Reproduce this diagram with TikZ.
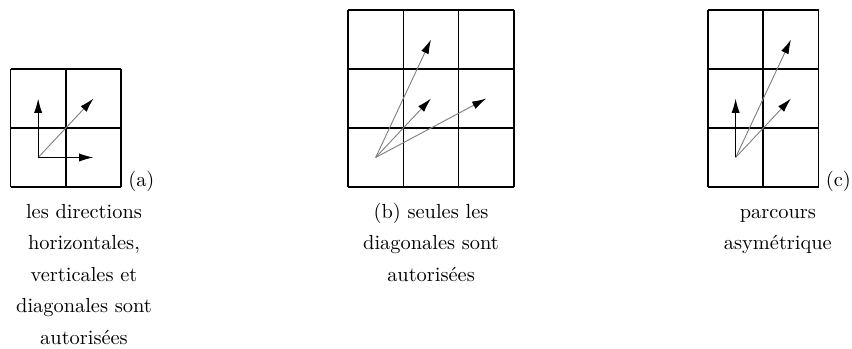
\documentclass[tikz,border=0pt]{standalone}
\usepackage{tikz}
\usetikzlibrary{arrows.meta, positioning}

\begin{document}
\begin{tikzpicture}[
        grille/.style={line width=0.8pt},
        dirn/.style={-{Latex[length=7pt,width=4pt]},line width=0.6pt},
        diag/.style={-{Latex[length=7pt,width=4pt,color=black]},gray,line width=0.45pt},
        lettre/.style={anchor=base west},
        legende/.style={align=center,anchor=base,inner sep=0pt,
                        font=\fontsize{10}{15.4}\selectfont}
      ]
        \useasboundingbox (0,0) rectangle (14.677,6.012);
        \begin{scope}[shift={(0.181,2.791)},x=0.953cm,y=1.016cm]
          \draw[grille] (0,0) grid[step=1] (2,2);
          \coordinate (a0) at (0.5,0.5);
          \coordinate (ah) at (1.5,0.5);
          \coordinate (av) at (0.5,1.5);
          \coordinate (ad) at (1.5,1.5);
          \draw[diag] (a0)--(ad);
          \draw[dirn] (a0)--(av);
          \draw[dirn] (a0)--(ah);
          \node[lettre] (la) at (2,0) {(a)};
        \end{scope}
        \begin{scope}[shift={(5.995,2.791)},x=0.953cm,y=1.016cm]
          \draw[grille] (0,0) grid[step=1] (3,3);
          \coordinate (b0) at (0.5,0.5);
          \coordinate (b1) at (1.5,2.5);
          \coordinate (b2) at (1.5,1.5);
          \coordinate (b3) at (2.5,1.5);
          \draw[diag] (b0)--(b1);
          \draw[diag] (b0)--(b2);
          \draw[diag] (b0)--(b3);
        \end{scope}
        \begin{scope}[shift={(12.196,2.791)},x=0.953cm,y=1.016cm]
          \draw[grille] (0,0) grid[step=1] (2,3);
          \coordinate (c0) at (0.5,0.5);
          \coordinate (cv) at (0.5,1.5);
          \coordinate (c1) at (1.5,2.5);
          \coordinate (c2) at (1.5,1.5);
          \draw[diag] (c0)--(c1);
          \draw[diag] (c0)--(c2);
          \draw[dirn] (c0)--(cv);
          \node[lettre] (lc) at (2,0) {(c)};
        \end{scope}
        \node[legende] (capa) at (1.447,0.085)
          {les directions\\horizontales,\\verticales et\\diagonales sont\\autoris\'ees};
        \node[legende] (capb) at (7.425,1.168)
          {(b) seules les\\diagonales sont\\autoris\'ees};
        \node[legende] (capc) at (13.40,1.709)
          {parcours\\asym\'etrique};
      \end{tikzpicture}
\end{document}
